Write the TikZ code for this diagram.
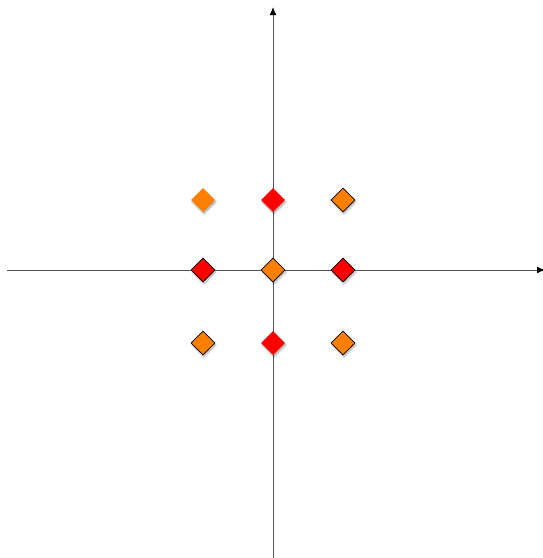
\documentclass[tikz,border=0pt]{standalone}
\usetikzlibrary{shapes.geometric,shadows.blur,arrows.meta}
\definecolor{dorange}{HTML}{FF8000}
\definecolor{dred}{HTML}{FF0000}
\definecolor{axisgray}{HTML}{555555}
\tikzset{
  pt/.style={shape=diamond, inner sep=0pt, minimum width=24pt, minimum height=24pt,
    blur shadow={shadow xshift=1pt, shadow yshift=-2pt, shadow blur steps=6, shadow opacity=35}},
  ptb/.style={pt, draw=black, line width=0.8pt},
  axis/.style={draw=axisgray, line width=1pt, -{Latex[length=8pt,width=7pt,black]}},
}
\begin{document}
\begin{tikzpicture}[x=1pt,y=1pt]
\useasboundingbox (0,0) rectangle (543,-558);
\coordinate (xl) at (7,-270);
\coordinate (xr) at (545,-270);
\coordinate (yb) at (273,-558);
\coordinate (yt) at (273,-7);
\draw[axis] (xl) -- (xr);
\draw[axis] (yb) -- (yt);
\node[pt, fill=dorange] (tl) at (203,-200) {};
\node[pt, fill=dred] (tm) at (273,-200) {};
\node[ptb, fill=dorange] (tr) at (343,-200) {};
\node[ptb, fill=dred] (ml) at (203,-270) {};
\node[ptb, fill=dorange] (mm) at (273,-270) {};
\node[ptb, fill=dred] (mr) at (343,-270) {};
\node[ptb, fill=dorange] (bl) at (203,-343) {};
\node[pt, fill=dred] (bm) at (273,-343) {};
\node[ptb, fill=dorange] (br) at (343,-343) {};
\end{tikzpicture}
\end{document}
